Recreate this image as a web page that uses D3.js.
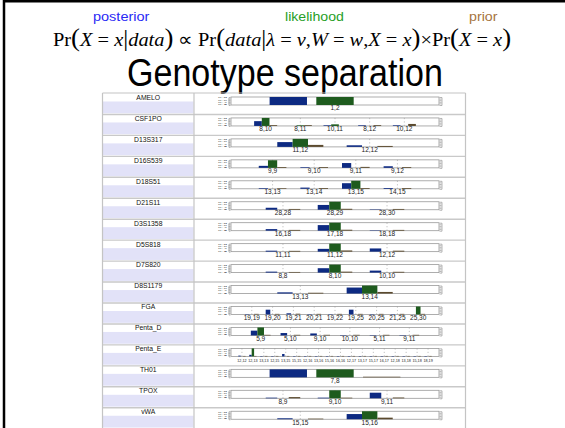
<!DOCTYPE html>
<meta charset="utf-8">
<style>
body { margin: 0; background: #fff; }
svg { display: block; }
.locus { font: 6.8px Arial, "Liberation Sans", sans-serif; fill: #111; text-anchor: middle; }
.gt { font-family: Arial, "Liberation Sans", sans-serif; fill: #222; }
.ylab { font: 1.8px Arial, "Liberation Sans", sans-serif; fill: #444; text-anchor: end; }
.ax path, .ax line { stroke: #888; stroke-width: 0.6px; fill: none; }
</style>
<svg width="565" height="428"></svg>
<script src="https://cdn.jsdelivr.net/npm/d3@7"></script>
<script>

// loci shown in the table, top to bottom
var loci = ["AMELO", "CSF1PO", "D13S317", "D16S539", "D18S51", "D21S11", "D3S1358", "D5S818",
            "D7S820", "D8S1179", "FGA", "Penta_D", "Penta_E", "TH01", "TPOX", "vWA"];

// candidate genotypes per locus (tick labels)
var genotypes = [
  ["1,2"],
  ["8,10", "8,11", "10,11", "8,12", "10,12"],
  ["11,12", "12,12"],
  ["9,9", "9,10", "9,11", "9,12"],
  ["13,13", "13,14", "13,15", "14,15"],
  ["28,28", "28,29", "28,30"],
  ["16,18", "17,18", "18,18"],
  ["11,11", "11,12", "12,12"],
  ["8,8", "8,10", "10,10"],
  ["13,13", "13,14"],
  ["19,19", "19,20", "19,21", "20,21", "19,22", "19,25", "20,25", "21,25", "25,30"],
  ["5,9", "5,10", "9,10", "10,10", "5,11", "9,11"],
  ["12,12", "12,13", "13,13", "12,15", "13,15", "15,15", "12,16", "13,16", "15,16",
   "16,16", "12,17", "13,17", "15,17", "16,17", "12,18", "13,18", "15,18", "18,19"],
  ["7,8"],
  ["8,9", "9,10", "9,11"],
  ["15,15", "15,16"]
];

// posterior (blue)
var posterior = [
  [1.0],
  [0.6, 0, 0.08, 0.08, 0.08],
  [0.6, 0.2],
  [0.25, 0.08, 0.6, 0.2],
  [0.08, 0.15, 0.7, 0.1],
  [0.25, 0.6, 0.05],
  [0.2, 0.7, 0.05],
  [0.12, 0.35, 0.4],
  [0.12, 0.55, 0.25],
  [0.15, 0.75],
  [0.05, 0.6, 0.15, 0.05, 0.05, 0.6, 0.05, 0.05, 0],
  [0.6, 0.3, 0.25, 0.05, 0.05, 0.05],
  [0.1, 0.2, 0.05, 0.05, 0.3, 0.05, 0.05, 0.05, 0.05, 0.05, 0.05, 0.05, 0.05, 0.05, 0.05, 0.05, 0.05, 0.05],
  [1.0],
  [0.08, 0.08, 0.7],
  [0.12, 0.65]
];

// likelihood (green)
var likelihood = [
  [1.0],
  [1.0, 0.08, 0.2, 0, 0],
  [1.0, 0],
  [0.95, 0, 0, 0],
  [0, 0, 1.0, 0],
  [0, 1.0, 0],
  [0, 1.0, 0],
  [0, 1.0, 0],
  [0, 1.0, 0],
  [0, 1.0],
  [0, 0, 0, 0, 0, 0, 0, 0, 1.0],
  [1.0, 0, 0, 0, 0, 0],
  [0, 1.0, 0, 0, 0, 0, 0, 0, 0, 0, 0, 0, 0, 0, 0, 0, 0, 0],
  [1.0],
  [0, 1.0, 0],
  [0, 1.0]
];

// prior (brown)
var prior = [
  [0],
  [0.1, 0.1, 0, 0.1, 0.25],
  [0.25, 0.12],
  [0.1, 0.1, 0.12, 0.1],
  [0.08, 0.1, 0.1, 0.1],
  [0.1, 0.12, 0.1],
  [0.1, 0.12, 0.1],
  [0.1, 0.15, 0.12],
  [0.08, 0.12, 0.1],
  [0.1, 0.2],
  [0.08, 0.08, 0.1, 0.08, 0.08, 0.08, 0.08, 0.08, 0.08],
  [0.08, 0.08, 0.08, 0.08, 0.08, 0.08],
  [0.06, 0.06, 0.06, 0.06, 0.06, 0.06, 0.06, 0.06, 0.06, 0.06, 0.06, 0.06, 0.06, 0.06, 0.06, 0.06, 0.06, 0.06],
  [0.08],
  [0.15, 0.08, 0.1],
  [0.08, 0.2]
];

// y axis tick values of every small panel
var yTicks = [0.2, 0.4, 0.6, 0.8];

var series = ["posterior", "likelihood", "prior"];
var barColor = {posterior: "#0d2a82", likelihood: "#1e5b1e", prior: "#5b4a2e"};
var headColor = {posterior: "#2a2af5", likelihood: "#27a027", prior: "#a67440"};

var svg = d3.select("svg"),
    width = +svg.attr("width"),
    height = +svg.attr("height");

svg.append("rect").attr("width", width).attr("height", height).attr("fill", "#fff");

// slide frame (top and left edge)
svg.append("line").attr("x1", 3).attr("x2", width).attr("y1", 1.2).attr("y2", 1.2)
    .attr("stroke", "#000").attr("stroke-width", 2.5);
svg.append("line").attr("x1", 4).attr("x2", 4).attr("y1", 0).attr("y2", height)
    .attr("stroke", "#000").attr("stroke-width", 2.5);

// fit a text node horizontally into [xa, xb]
function fit(sel, xa, xb) {
  var b = sel.node().getBBox(), s = (xb - xa) / b.width;
  sel.attr("transform", "translate(" + (xa - b.x * s) + ",0) scale(" + s + ",1)");
}

// headings over the formula
var headPos = {posterior: [93, 150], likelihood: [285, 344], prior: [469, 498]};
series.forEach(function(s) {
  var t = svg.append("text").attr("x", 0).attr("y", 21.5)
      .style("font", "13.5px Arial, 'Liberation Sans', sans-serif")
      .attr("fill", headColor[s]).text(s);
  fit(t, headPos[s][0], headPos[s][1]);
});

// formula
var parts = [["Pr","n"],["(","p"],["X","i"],[" = ","n"],["x","i"],["|","b"],["data","i"],[")","p"],
  [" \u221d ","n"],["Pr","n"],["(","p"],["data","i"],["|","b"],["\u03bb","i"],[" = ","n"],["v","i"],[",","n"],
  ["W","i"],[" = ","n"],["w","i"],[",","n"],["X","i"],[" = ","n"],["x","i"],[")","p"],["\u00d7","n"],
  ["Pr","n"],["(","p"],["X","i"],[" = ","n"],["x","i"],[")","p"]];
var formula = svg.append("text").attr("x", 0).attr("y", 46.5)
    .style("font-family", "'Liberation Serif', 'Times New Roman', serif")
    .style("font-size", "19px").attr("fill", "#000").attr("xml:space", "preserve");
formula.selectAll("tspan").data(parts).enter().append("tspan")
    .style("font-style", function(d) { return d[1] === "i" ? "italic" : "normal"; })
    .style("font-size", function(d) { return d[1] === "p" ? "25px" : d[1] === "b" ? "23px" : "19px"; })
    .style("font-weight", function(d) { return d[1] === "p" ? "lighter" : "normal"; })
    .text(function(d) { return d[0]; });
fit(formula, 53, 512);

// title
var title = svg.append("text").attr("x", 0).attr("y", 86.5)
    .style("font", "38px Arial, 'Liberation Sans', sans-serif").attr("fill", "#000")
    .text("Genotype separation");
fit(title, 127, 443);

// table
var tx0 = 102.5, tx1 = 465.5, tdiv = 194, ty0 = 93.5, rowH = 20.95;
var boxL = 231, boxR = 439, boxT = 3.5, boxH = 8;

var y = d3.scaleLinear().domain([0, 1]).range([boxH, 0]);
var yLab = d3.scaleLinear().domain([0, 1]).range([boxH + 1.6, -1.6]);

var rows = svg.append("g");

loci.forEach(function(name, i) {
  var g = rows.append("g").attr("transform", "translate(0," + (ty0 + i * rowH) + ")");

  g.append("rect").attr("x", tx0).attr("y", 8).attr("width", tdiv - tx0 - 0.5).attr("height", 11.8)
      .attr("fill", "#e2e2f8");
  g.append("text").attr("class", "locus").attr("x", (tx0 + tdiv) / 2).attr("y", 6.4).text(name);

  var genos = genotypes[i], n = genos.length;
  var xb = d3.scaleBand().domain(genos).range([boxL, boxR])
      .paddingInner(0.336).paddingOuter(n === 1 ? 0.196 : 0.667);
  var xs = d3.scaleBand().domain(series).range([0, xb.bandwidth()])
      .paddingInner(n === 1 ? 0.2 : 0);
  var mid = function(d) { return xb(d) + xb.bandwidth() / 2; };

  var plot = g.append("g").attr("transform", "translate(0," + boxT + ")");

  plot.append("rect").attr("x", boxL).attr("y", 0).attr("width", boxR - boxL).attr("height", boxH)
      .attr("fill", "#fff").attr("stroke", "#999").attr("stroke-width", 0.8);

  // left axis, with its labels squeezed into a small block
  plot.append("g").attr("class", "ax").attr("transform", "translate(228.5,0)")
      .call(d3.axisRight(y).tickValues(yTicks).tickSize(2).tickSizeOuter(2).tickFormat(""));
  plot.selectAll(".ylab").data(yTicks).enter().append("text").attr("class", "ylab")
      .attr("transform", function(d) { return "translate(227," + (yLab(d) + 0.65) + ") scale(3.6,1)"; })
      .text(function(d) { return d3.format(".1f")(d); });
  // right axis
  plot.append("g").attr("class", "ax").attr("transform", "translate(441.5,0)")
      .call(d3.axisLeft(y).tickValues(yTicks).tickSize(2).tickSizeOuter(2).tickFormat(""));

  // dotted genotype ticks
  plot.selectAll(".gl").data(genos).enter().append("line")
      .attr("x1", mid).attr("x2", mid).attr("y1", 0).attr("y2", boxH)
      .attr("stroke", "#999").attr("stroke-width", 0.6).attr("stroke-dasharray", "1.2,2.2");

  var vals = {posterior: posterior[i], likelihood: likelihood[i], prior: prior[i]};
  genos.forEach(function(gt, j) {
    series.forEach(function(s) {
      var v = vals[s][j];
      if (!v) return;
      plot.append("rect")
          .attr("x", xb(gt) + xs(s)).attr("width", xs.bandwidth())
          .attr("y", y(v)).attr("height", boxH - y(v))
          .attr("fill", barColor[s]);
    });
  });

  // genotype labels; smaller type where the locus is crowded
  var room = xb.step() - 1.6;
  g.selectAll(".gt").data(genos).enter().append("text").attr("class", "gt")
      .attr("x", mid).attr("y", 16.8).attr("text-anchor", "middle")
      .style("font-size", "6.5px")
      .text(function(d) { return d; })
      .each(function() {
        var w = this.getComputedTextLength();
        if (w > room) d3.select(this).style("font-size", (6.5 * room / w).toFixed(2) + "px");
      });

  g.append("line").attr("x1", tx0).attr("x2", tx1).attr("y1", rowH).attr("y2", rowH)
      .attr("stroke", "#c9c9c9").attr("stroke-width", 1.4);
});

// table borders
var grid = svg.append("g").attr("stroke", "#c4c4c4").attr("stroke-width", 1.2);
grid.append("line").attr("x1", tx0).attr("x2", tx1).attr("y1", ty0 - 0.5).attr("y2", ty0 - 0.5);
[tx0, tdiv, tx1].forEach(function(x) {
  grid.append("line").attr("x1", x).attr("x2", x).attr("y1", ty0 - 0.5).attr("y2", height);
});

</script>
